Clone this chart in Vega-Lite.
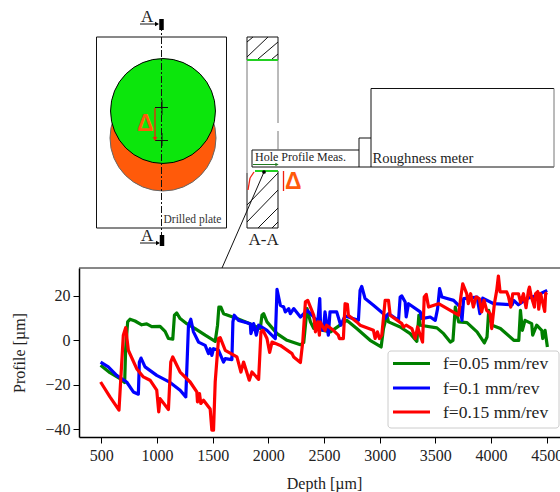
{"$schema":"https://vega.github.io/schema/vega-lite/v6.json","width":560,"height":492,"padding":0,"autosize":{"type":"none"},"background":"white","config":{"view":{"stroke":null},"font":"Liberation Serif"},
"datasets":{
"profile":[
{"d":494,"p":-11.3,"f":"f=0.05 mm/rev"},{"d":578,"p":-14.6,"f":"f=0.05 mm/rev"},{"d":668,"p":-17.3,"f":"f=0.05 mm/rev"},{"d":710,"p":-19,"f":"f=0.05 mm/rev"},{"d":719,"p":-3.8,"f":"f=0.05 mm/rev"},{"d":737,"p":8.3,"f":"f=0.05 mm/rev"},{"d":758,"p":9.5,"f":"f=0.05 mm/rev"},{"d":803,"p":8.7,"f":"f=0.05 mm/rev"},{"d":863,"p":7,"f":"f=0.05 mm/rev"},{"d":908,"p":7.4,"f":"f=0.05 mm/rev"},{"d":953,"p":6.2,"f":"f=0.05 mm/rev"},{"d":1028,"p":6.3,"f":"f=0.05 mm/rev"},{"d":1073,"p":4,"f":"f=0.05 mm/rev"},{"d":1103,"p":0.8,"f":"f=0.05 mm/rev"},{"d":1142,"p":0.5,"f":"f=0.05 mm/rev"},{"d":1157,"p":11.3,"f":"f=0.05 mm/rev"},{"d":1178,"p":12.3,"f":"f=0.05 mm/rev"},{"d":1208,"p":9.8,"f":"f=0.05 mm/rev"},{"d":1268,"p":7.5,"f":"f=0.05 mm/rev"},{"d":1343,"p":5.3,"f":"f=0.05 mm/rev"},{"d":1433,"p":2.3,"f":"f=0.05 mm/rev"},{"d":1523,"p":-0.5,"f":"f=0.05 mm/rev"},{"d":1544,"p":6.8,"f":"f=0.05 mm/rev"},{"d":1556,"p":15,"f":"f=0.05 mm/rev"},{"d":1574,"p":15,"f":"f=0.05 mm/rev"},{"d":1598,"p":12,"f":"f=0.05 mm/rev"},{"d":1718,"p":9.8,"f":"f=0.05 mm/rev"},{"d":1808,"p":8,"f":"f=0.05 mm/rev"},{"d":1928,"p":5.3,"f":"f=0.05 mm/rev"},{"d":1943,"p":11.3,"f":"f=0.05 mm/rev"},{"d":1958,"p":12,"f":"f=0.05 mm/rev"},{"d":1988,"p":8.3,"f":"f=0.05 mm/rev"},{"d":2078,"p":3,"f":"f=0.05 mm/rev"},{"d":2168,"p":0,"f":"f=0.05 mm/rev"},{"d":2288,"p":-2,"f":"f=0.05 mm/rev"},{"d":2318,"p":-1,"f":"f=0.05 mm/rev"},{"d":2348,"p":14.3,"f":"f=0.05 mm/rev"},{"d":2378,"p":8.3,"f":"f=0.05 mm/rev"},{"d":2408,"p":5.3,"f":"f=0.05 mm/rev"},{"d":2558,"p":3.8,"f":"f=0.05 mm/rev"},{"d":2704,"p":9,"f":"f=0.05 mm/rev"},{"d":2794,"p":5.3,"f":"f=0.05 mm/rev"},{"d":2914,"p":0,"f":"f=0.05 mm/rev"},{"d":3013,"p":-3,"f":"f=0.05 mm/rev"},{"d":3034,"p":5.3,"f":"f=0.05 mm/rev"},{"d":3064,"p":11.3,"f":"f=0.05 mm/rev"},{"d":3079,"p":8.3,"f":"f=0.05 mm/rev"},{"d":3184,"p":6,"f":"f=0.05 mm/rev"},{"d":3274,"p":3,"f":"f=0.05 mm/rev"},{"d":3334,"p":-0.5,"f":"f=0.05 mm/rev"},{"d":3352,"p":11.3,"f":"f=0.05 mm/rev"},{"d":3364,"p":6.8,"f":"f=0.05 mm/rev"},{"d":3514,"p":5.6,"f":"f=0.05 mm/rev"},{"d":3574,"p":3,"f":"f=0.05 mm/rev"},{"d":3634,"p":-0.8,"f":"f=0.05 mm/rev"},{"d":3658,"p":0,"f":"f=0.05 mm/rev"},{"d":3679,"p":15,"f":"f=0.05 mm/rev"},{"d":3709,"p":8.3,"f":"f=0.05 mm/rev"},{"d":3784,"p":8,"f":"f=0.05 mm/rev"},{"d":3874,"p":3.8,"f":"f=0.05 mm/rev"},{"d":3940,"p":-1.2,"f":"f=0.05 mm/rev"},{"d":3964,"p":1.5,"f":"f=0.05 mm/rev"},{"d":3979,"p":13.5,"f":"f=0.05 mm/rev"},{"d":4009,"p":6.8,"f":"f=0.05 mm/rev"},{"d":4084,"p":5.3,"f":"f=0.05 mm/rev"},{"d":4204,"p":0,"f":"f=0.05 mm/rev"},{"d":4249,"p":0,"f":"f=0.05 mm/rev"},{"d":4264,"p":13.5,"f":"f=0.05 mm/rev"},{"d":4281,"p":4.5,"f":"f=0.05 mm/rev"},{"d":4305,"p":9,"f":"f=0.05 mm/rev"},{"d":4365,"p":7.5,"f":"f=0.05 mm/rev"},{"d":4374,"p":2.3,"f":"f=0.05 mm/rev"},{"d":4410,"p":6.8,"f":"f=0.05 mm/rev"},{"d":4455,"p":4.5,"f":"f=0.05 mm/rev"},{"d":4464,"p":0.8,"f":"f=0.05 mm/rev"},{"d":4485,"p":4.5,"f":"f=0.05 mm/rev"},{"d":4506,"p":-3,"f":"f=0.05 mm/rev"},
{"d":494,"p":-9.8,"f":"f=0.1 mm/rev"},{"d":563,"p":-12,"f":"f=0.1 mm/rev"},{"d":638,"p":-15.8,"f":"f=0.1 mm/rev"},{"d":728,"p":-18.8,"f":"f=0.1 mm/rev"},{"d":788,"p":-23.3,"f":"f=0.1 mm/rev"},{"d":833,"p":-24.3,"f":"f=0.1 mm/rev"},{"d":842,"p":-9.8,"f":"f=0.1 mm/rev"},{"d":857,"p":-8,"f":"f=0.1 mm/rev"},{"d":893,"p":-12,"f":"f=0.1 mm/rev"},{"d":998,"p":-15.8,"f":"f=0.1 mm/rev"},{"d":1118,"p":-19,"f":"f=0.1 mm/rev"},{"d":1208,"p":-22.5,"f":"f=0.1 mm/rev"},{"d":1259,"p":-25.5,"f":"f=0.1 mm/rev"},{"d":1283,"p":6.8,"f":"f=0.1 mm/rev"},{"d":1304,"p":9.5,"f":"f=0.1 mm/rev"},{"d":1328,"p":3.8,"f":"f=0.1 mm/rev"},{"d":1373,"p":-0.8,"f":"f=0.1 mm/rev"},{"d":1433,"p":-2.3,"f":"f=0.1 mm/rev"},{"d":1463,"p":-6,"f":"f=0.1 mm/rev"},{"d":1478,"p":-3.8,"f":"f=0.1 mm/rev"},{"d":1493,"p":-6.8,"f":"f=0.1 mm/rev"},{"d":1508,"p":-3.8,"f":"f=0.1 mm/rev"},{"d":1553,"p":-4.5,"f":"f=0.1 mm/rev"},{"d":1598,"p":-9.8,"f":"f=0.1 mm/rev"},{"d":1613,"p":-8.3,"f":"f=0.1 mm/rev"},{"d":1673,"p":-8.7,"f":"f=0.1 mm/rev"},{"d":1682,"p":8.3,"f":"f=0.1 mm/rev"},{"d":1694,"p":11.3,"f":"f=0.1 mm/rev"},{"d":1733,"p":9,"f":"f=0.1 mm/rev"},{"d":1838,"p":7.5,"f":"f=0.1 mm/rev"},{"d":1844,"p":3,"f":"f=0.1 mm/rev"},{"d":1868,"p":7.5,"f":"f=0.1 mm/rev"},{"d":1892,"p":2.3,"f":"f=0.1 mm/rev"},{"d":1913,"p":6.8,"f":"f=0.1 mm/rev"},{"d":1988,"p":4.5,"f":"f=0.1 mm/rev"},{"d":2063,"p":0.8,"f":"f=0.1 mm/rev"},{"d":2078,"p":23,"f":"f=0.1 mm/rev"},{"d":2108,"p":15.8,"f":"f=0.1 mm/rev"},{"d":2138,"p":15,"f":"f=0.1 mm/rev"},{"d":2153,"p":12.8,"f":"f=0.1 mm/rev"},{"d":2183,"p":14.3,"f":"f=0.1 mm/rev"},{"d":2198,"p":12,"f":"f=0.1 mm/rev"},{"d":2228,"p":14.3,"f":"f=0.1 mm/rev"},{"d":2288,"p":10.5,"f":"f=0.1 mm/rev"},{"d":2348,"p":13.5,"f":"f=0.1 mm/rev"},{"d":2393,"p":11.3,"f":"f=0.1 mm/rev"},{"d":2444,"p":8.3,"f":"f=0.1 mm/rev"},{"d":2462,"p":18.8,"f":"f=0.1 mm/rev"},{"d":2470,"p":5,"f":"f=0.1 mm/rev"},{"d":2494,"p":4.5,"f":"f=0.1 mm/rev"},{"d":2509,"p":12.8,"f":"f=0.1 mm/rev"},{"d":2539,"p":2.3,"f":"f=0.1 mm/rev"},{"d":2554,"p":12.8,"f":"f=0.1 mm/rev"},{"d":2614,"p":12.8,"f":"f=0.1 mm/rev"},{"d":2650,"p":6.8,"f":"f=0.1 mm/rev"},{"d":2689,"p":11,"f":"f=0.1 mm/rev"},{"d":2809,"p":9,"f":"f=0.1 mm/rev"},{"d":2824,"p":22.5,"f":"f=0.1 mm/rev"},{"d":2839,"p":24.3,"f":"f=0.1 mm/rev"},{"d":2869,"p":18.8,"f":"f=0.1 mm/rev"},{"d":2944,"p":15.8,"f":"f=0.1 mm/rev"},{"d":3034,"p":12,"f":"f=0.1 mm/rev"},{"d":3049,"p":9.8,"f":"f=0.1 mm/rev"},{"d":3079,"p":12,"f":"f=0.1 mm/rev"},{"d":3169,"p":9,"f":"f=0.1 mm/rev"},{"d":3184,"p":19.5,"f":"f=0.1 mm/rev"},{"d":3199,"p":20,"f":"f=0.1 mm/rev"},{"d":3229,"p":17.3,"f":"f=0.1 mm/rev"},{"d":3238,"p":10.5,"f":"f=0.1 mm/rev"},{"d":3259,"p":16.5,"f":"f=0.1 mm/rev"},{"d":3364,"p":12.8,"f":"f=0.1 mm/rev"},{"d":3379,"p":9.8,"f":"f=0.1 mm/rev"},{"d":3454,"p":10.5,"f":"f=0.1 mm/rev"},{"d":3499,"p":9,"f":"f=0.1 mm/rev"},{"d":3520,"p":14.3,"f":"f=0.1 mm/rev"},{"d":3538,"p":23.3,"f":"f=0.1 mm/rev"},{"d":3559,"p":19.5,"f":"f=0.1 mm/rev"},{"d":3664,"p":18,"f":"f=0.1 mm/rev"},{"d":3724,"p":15,"f":"f=0.1 mm/rev"},{"d":3739,"p":9,"f":"f=0.1 mm/rev"},{"d":3754,"p":18.8,"f":"f=0.1 mm/rev"},{"d":3874,"p":19.5,"f":"f=0.1 mm/rev"},{"d":3900,"p":12,"f":"f=0.1 mm/rev"},{"d":3925,"p":19,"f":"f=0.1 mm/rev"},{"d":4024,"p":16.5,"f":"f=0.1 mm/rev"},{"d":4189,"p":16,"f":"f=0.1 mm/rev"},{"d":4204,"p":18,"f":"f=0.1 mm/rev"},{"d":4246,"p":16,"f":"f=0.1 mm/rev"},{"d":4324,"p":18.8,"f":"f=0.1 mm/rev"},{"d":4414,"p":20.3,"f":"f=0.1 mm/rev"},{"d":4504,"p":22.5,"f":"f=0.1 mm/rev"},
{"d":494,"p":-18.8,"f":"f=0.15 mm/rev"},{"d":578,"p":-25.5,"f":"f=0.15 mm/rev"},{"d":659,"p":-31.5,"f":"f=0.15 mm/rev"},{"d":698,"p":2.3,"f":"f=0.15 mm/rev"},{"d":719,"p":5.7,"f":"f=0.15 mm/rev"},{"d":743,"p":-4.5,"f":"f=0.15 mm/rev"},{"d":818,"p":-12.8,"f":"f=0.15 mm/rev"},{"d":878,"p":-16.5,"f":"f=0.15 mm/rev"},{"d":938,"p":-18,"f":"f=0.15 mm/rev"},{"d":998,"p":-22.5,"f":"f=0.15 mm/rev"},{"d":1016,"p":-32.3,"f":"f=0.15 mm/rev"},{"d":1028,"p":-26.3,"f":"f=0.15 mm/rev"},{"d":1103,"p":-31.2,"f":"f=0.15 mm/rev"},{"d":1124,"p":-9.8,"f":"f=0.15 mm/rev"},{"d":1142,"p":-7.5,"f":"f=0.15 mm/rev"},{"d":1208,"p":-14.3,"f":"f=0.15 mm/rev"},{"d":1298,"p":-18.8,"f":"f=0.15 mm/rev"},{"d":1358,"p":-23.3,"f":"f=0.15 mm/rev"},{"d":1364,"p":-27.8,"f":"f=0.15 mm/rev"},{"d":1382,"p":-24,"f":"f=0.15 mm/rev"},{"d":1394,"p":-28.5,"f":"f=0.15 mm/rev"},{"d":1418,"p":-27,"f":"f=0.15 mm/rev"},{"d":1478,"p":-31,"f":"f=0.15 mm/rev"},{"d":1493,"p":-40.5,"f":"f=0.15 mm/rev"},{"d":1508,"p":-40.5,"f":"f=0.15 mm/rev"},{"d":1523,"p":-18.8,"f":"f=0.15 mm/rev"},{"d":1553,"p":0.8,"f":"f=0.15 mm/rev"},{"d":1568,"p":1.2,"f":"f=0.15 mm/rev"},{"d":1613,"p":-4.5,"f":"f=0.15 mm/rev"},{"d":1718,"p":-7.5,"f":"f=0.15 mm/rev"},{"d":1754,"p":-14.3,"f":"f=0.15 mm/rev"},{"d":1778,"p":-9.8,"f":"f=0.15 mm/rev"},{"d":1829,"p":-18,"f":"f=0.15 mm/rev"},{"d":1853,"p":-14.3,"f":"f=0.15 mm/rev"},{"d":1913,"p":-17.6,"f":"f=0.15 mm/rev"},{"d":1934,"p":3.8,"f":"f=0.15 mm/rev"},{"d":1952,"p":4.5,"f":"f=0.15 mm/rev"},{"d":1988,"p":0.8,"f":"f=0.15 mm/rev"},{"d":2012,"p":-5.5,"f":"f=0.15 mm/rev"},{"d":2033,"p":-0.8,"f":"f=0.15 mm/rev"},{"d":2108,"p":-2.3,"f":"f=0.15 mm/rev"},{"d":2213,"p":-6,"f":"f=0.15 mm/rev"},{"d":2228,"p":-7.5,"f":"f=0.15 mm/rev"},{"d":2288,"p":-10,"f":"f=0.15 mm/rev"},{"d":2309,"p":-0.8,"f":"f=0.15 mm/rev"},{"d":2333,"p":17.3,"f":"f=0.15 mm/rev"},{"d":2354,"p":18,"f":"f=0.15 mm/rev"},{"d":2408,"p":11.3,"f":"f=0.15 mm/rev"},{"d":2423,"p":3.8,"f":"f=0.15 mm/rev"},{"d":2444,"p":8.3,"f":"f=0.15 mm/rev"},{"d":2459,"p":2.3,"f":"f=0.15 mm/rev"},{"d":2464,"p":8.3,"f":"f=0.15 mm/rev"},{"d":2509,"p":4.5,"f":"f=0.15 mm/rev"},{"d":2524,"p":6.8,"f":"f=0.15 mm/rev"},{"d":2584,"p":4.5,"f":"f=0.15 mm/rev"},{"d":2629,"p":2.3,"f":"f=0.15 mm/rev"},{"d":2638,"p":0.8,"f":"f=0.15 mm/rev"},{"d":2674,"p":0.8,"f":"f=0.15 mm/rev"},{"d":2689,"p":16.5,"f":"f=0.15 mm/rev"},{"d":2710,"p":16.2,"f":"f=0.15 mm/rev"},{"d":2719,"p":11.3,"f":"f=0.15 mm/rev"},{"d":2794,"p":8.3,"f":"f=0.15 mm/rev"},{"d":2824,"p":6.8,"f":"f=0.15 mm/rev"},{"d":2944,"p":4.5,"f":"f=0.15 mm/rev"},{"d":2959,"p":0.8,"f":"f=0.15 mm/rev"},{"d":2980,"p":3.8,"f":"f=0.15 mm/rev"},{"d":2998,"p":0.8,"f":"f=0.15 mm/rev"},{"d":3019,"p":2.3,"f":"f=0.15 mm/rev"},{"d":3049,"p":18,"f":"f=0.15 mm/rev"},{"d":3079,"p":18,"f":"f=0.15 mm/rev"},{"d":3094,"p":11.3,"f":"f=0.15 mm/rev"},{"d":3199,"p":7.5,"f":"f=0.15 mm/rev"},{"d":3214,"p":6,"f":"f=0.15 mm/rev"},{"d":3238,"p":6.8,"f":"f=0.15 mm/rev"},{"d":3289,"p":5.3,"f":"f=0.15 mm/rev"},{"d":3319,"p":0.8,"f":"f=0.15 mm/rev"},{"d":3340,"p":6,"f":"f=0.15 mm/rev"},{"d":3385,"p":-0.8,"f":"f=0.15 mm/rev"},{"d":3400,"p":19.5,"f":"f=0.15 mm/rev"},{"d":3418,"p":20.7,"f":"f=0.15 mm/rev"},{"d":3439,"p":15,"f":"f=0.15 mm/rev"},{"d":3529,"p":16.5,"f":"f=0.15 mm/rev"},{"d":3634,"p":13.5,"f":"f=0.15 mm/rev"},{"d":3709,"p":11.3,"f":"f=0.15 mm/rev"},{"d":3730,"p":20,"f":"f=0.15 mm/rev"},{"d":3746,"p":25.5,"f":"f=0.15 mm/rev"},{"d":3782,"p":21,"f":"f=0.15 mm/rev"},{"d":3796,"p":16.5,"f":"f=0.15 mm/rev"},{"d":3817,"p":21,"f":"f=0.15 mm/rev"},{"d":3841,"p":15,"f":"f=0.15 mm/rev"},{"d":3865,"p":19.5,"f":"f=0.15 mm/rev"},{"d":3895,"p":18.8,"f":"f=0.15 mm/rev"},{"d":3916,"p":12.8,"f":"f=0.15 mm/rev"},{"d":3937,"p":18,"f":"f=0.15 mm/rev"},{"d":3961,"p":13.5,"f":"f=0.15 mm/rev"},{"d":3991,"p":12,"f":"f=0.15 mm/rev"},{"d":4006,"p":5.3,"f":"f=0.15 mm/rev"},{"d":4030,"p":16.5,"f":"f=0.15 mm/rev"},{"d":4051,"p":22.5,"f":"f=0.15 mm/rev"},{"d":4066,"p":29,"f":"f=0.15 mm/rev"},{"d":4081,"p":21.8,"f":"f=0.15 mm/rev"},{"d":4141,"p":21.8,"f":"f=0.15 mm/rev"},{"d":4156,"p":19.8,"f":"f=0.15 mm/rev"},{"d":4177,"p":15,"f":"f=0.15 mm/rev"},{"d":4195,"p":21,"f":"f=0.15 mm/rev"},{"d":4246,"p":21,"f":"f=0.15 mm/rev"},{"d":4266,"p":17,"f":"f=0.15 mm/rev"},{"d":4291,"p":21,"f":"f=0.15 mm/rev"},{"d":4314,"p":14.7,"f":"f=0.15 mm/rev"},{"d":4336,"p":22.5,"f":"f=0.15 mm/rev"},{"d":4345,"p":24,"f":"f=0.15 mm/rev"},{"d":4360,"p":20,"f":"f=0.15 mm/rev"},{"d":4390,"p":15,"f":"f=0.15 mm/rev"},{"d":4400,"p":21,"f":"f=0.15 mm/rev"},{"d":4420,"p":22,"f":"f=0.15 mm/rev"},{"d":4428,"p":14,"f":"f=0.15 mm/rev"},{"d":4445,"p":21,"f":"f=0.15 mm/rev"},{"d":4482,"p":13,"f":"f=0.15 mm/rev"},{"d":4490,"p":21,"f":"f=0.15 mm/rev"},{"d":4504,"p":21.5,"f":"f=0.15 mm/rev"}
],
"blackSegs":[
{"a":96.5,"b":37,"c":226.5,"e":37},{"a":226.5,"b":37,"c":226.5,"e":228},{"a":226.5,"b":228,"c":96.5,"e":228},{"a":96.5,"b":228,"c":96.5,"e":37},
{"a":247,"b":37,"c":278,"e":37},{"a":247,"b":228,"c":278,"e":228},{"a":247,"b":173,"c":247,"e":228},{"a":278,"b":171,"c":278,"e":228},{"a":247,"b":37,"c":247,"e":60},{"a":278,"b":37,"c":278,"e":60},
{"a":247,"b":42,"c":253,"e":37},{"a":247,"b":57,"c":268,"e":37},{"a":258,"b":59,"c":278,"e":42},{"a":272,"b":59,"c":278,"e":54},
{"a":247,"b":205,"c":278,"e":173},{"a":247,"b":222,"c":278,"e":190},{"a":258,"b":228,"c":278,"e":208},{"a":272,"b":228,"c":278,"e":222},
{"a":264,"b":172,"c":222,"e":268},
{"a":252,"b":150,"c":359,"e":150},{"a":252,"b":150,"c":252,"e":167},{"a":252,"b":167,"c":554,"e":167},{"a":359,"b":138,"c":359,"e":167},{"a":359,"b":138,"c":371,"e":138},{"a":371,"b":88.5,"c":371,"e":167},{"a":371,"b":88.5,"c":554,"e":88.5},
{"a":155,"b":107.5,"c":168,"e":107.5},{"a":155,"b":140.5,"c":168,"e":140.5},{"a":162,"b":100,"c":162,"e":115},{"a":162,"b":133,"c":162,"e":146},
{"a":140,"b":24,"c":156,"e":24},{"a":140,"b":243,"c":158,"e":243},
{"a":79,"b":268,"c":569,"e":268}
],
"graySegs":[{"a":247,"b":60,"c":247,"e":173},{"a":278,"b":60,"c":278,"e":123},{"a":278,"b":131,"c":278,"e":150},{"a":554,"b":88.5,"c":554,"e":167}],
"greenSegs":[{"a":247,"b":60,"c":278,"e":60},{"a":255,"b":171,"c":278,"e":171}],
"darkGreenSegs":[{"a":253,"b":164.5,"c":277,"e":164.5}],
"redSegs":[{"a":248,"b":190,"c":250,"e":178},{"a":250,"b":178,"c":254,"e":172},{"a":283.5,"b":171,"c":283.5,"e":191},{"a":155,"b":108,"c":155,"e":138}],
"centre":[{"a":161.5,"b":24,"c":161.5,"e":245}],
"bars":[{"a":161.5,"b":19,"c":161.5,"e":30},{"a":162,"b":235,"c":162,"e":246}],
"discs":[{"a":163,"b":138,"k":"hole"}],
"discs2":[{"a":163,"b":111,"k":"reamed"}],
"legendFrame":[{"a":388,"b":351,"c":559,"e":428}],
"legendGreen":[{"a":393,"b":363.5,"c":430,"e":363.5}],
"legendBlue":[{"a":393,"b":388,"c":430,"e":388}],
"legendRed":[{"a":393,"b":412,"c":430,"e":412}],
"legendText":[{"a":443,"b":369,"t":"f=0.05 mm/rev"},{"a":443,"b":393.5,"t":"f=0.1 mm/rev"},{"a":443,"b":417.5,"t":"f=0.15 mm/rev"}]
},
"resolve":{"scale":{"x":"independent","y":"independent"},"axis":{"x":"independent","y":"independent"}},
"layer":[
{"encoding":{"x":{"field":"a","type":"quantitative","axis":null,"scale":{"domain":[0,560],"range":[0,560],"nice":false,"zero":false}},"y":{"field":"b","type":"quantitative","axis":null,"scale":{"domain":[0,492],"range":[0,492],"nice":false,"zero":false}},"x2":{"field":"c"},"y2":{"field":"e"}},
"layer":[
{"data":{"name":"discs"},"mark":{"type":"point","shape":"circle","filled":true,"size":11236,"fill":"#ff5a0a","stroke":"#666666","strokeWidth":1,"opacity":1},"encoding":{"x2":null,"y2":null}},
{"data":{"name":"discs2"},"mark":{"type":"point","shape":"circle","filled":true,"size":11000,"fill":"#0ce60c","stroke":"#000000","strokeWidth":1,"opacity":1},"encoding":{"x2":null,"y2":null}},
{"data":{"name":"blackSegs"},"mark":{"type":"rule","stroke":"#111111","strokeWidth":1}},
{"data":{"name":"graySegs"},"mark":{"type":"rule","stroke":"#777777","strokeWidth":1}},
{"data":{"name":"greenSegs"},"mark":{"type":"rule","stroke":"#22d022","strokeWidth":2}},
{"data":{"name":"darkGreenSegs"},"mark":{"type":"rule","stroke":"#1f7a1f","strokeWidth":1}},
{"data":{"name":"redSegs"},"mark":{"type":"rule","stroke":"#f02010","strokeWidth":1.3}},
{"data":{"name":"centre"},"mark":{"type":"rule","stroke":"#111111","strokeWidth":1,"strokeDash":[7,2,2,2]}},
{"data":{"name":"bars"},"mark":{"type":"rule","stroke":"#000000","strokeWidth":4.5}},
{"data":{"values":[{"a":155,"b":139}]},"mark":{"type":"point","shape":"triangle-down","filled":true,"size":22,"fill":"#f02010","opacity":1},"encoding":{"x2":null,"y2":null}},
{"data":{"values":[{"a":277,"b":164.5}]},"mark":{"type":"point","shape":"triangle-right","filled":true,"size":14,"fill":"#1f7a1f","opacity":1},"encoding":{"x2":null,"y2":null}},
{"data":{"values":[{"a":157,"b":24},{"a":158,"b":243}]},"mark":{"type":"point","shape":"triangle-right","filled":true,"size":22,"fill":"#000000","opacity":1},"encoding":{"x2":null,"y2":null}},
{"data":{"values":[{"a":264,"b":172}]},"mark":{"type":"point","shape":"circle","filled":true,"size":14,"fill":"#000000","opacity":1},"encoding":{"x2":null,"y2":null}},
{"data":{"values":[{"a":141,"b":21.5,"t":"A"},{"a":141,"b":240.5,"t":"A"},{"a":248.5,"b":245,"t":"A-A"}]},"mark":{"type":"text","align":"left","baseline":"alphabetic","fontSize":17,"fill":"#222222"},"encoding":{"x2":null,"y2":null,"text":{"field":"t"}}},
{"data":{"values":[{"a":137,"b":131,"t":"Δ"},{"a":285,"b":189,"t":"Δ"}]},"mark":{"type":"text","align":"left","baseline":"alphabetic","fontSize":23,"fontWeight":"bold","fill":"#ff5a0a","font":"Liberation Sans"},"encoding":{"x2":null,"y2":null,"text":{"field":"t"}}},
{"data":{"values":[{"a":163.5,"b":222.5,"t":"Drilled plate"}]},"mark":{"type":"text","align":"left","baseline":"alphabetic","fontSize":11.5,"fill":"#333333"},"encoding":{"x2":null,"y2":null,"text":{"field":"t"}}},
{"data":{"values":[{"a":255,"b":161,"t":"Hole Profile Meas."}]},"mark":{"type":"text","align":"left","baseline":"alphabetic","fontSize":12,"fill":"#222222"},"encoding":{"x2":null,"y2":null,"text":{"field":"t"}}},
{"data":{"values":[{"a":372.5,"b":163,"t":"Roughness meter"}]},"mark":{"type":"text","align":"left","baseline":"alphabetic","fontSize":14.6,"fill":"#222222"},"encoding":{"x2":null,"y2":null,"text":{"field":"t"}}}
]},
{"data":{"name":"profile"},
"mark":{"type":"line","strokeWidth":3.2,"strokeJoin":"round"},
"encoding":{
"x":{"field":"d","type":"quantitative","title":"Depth [µm]","scale":{"domain":[300,4700],"range":[79,569],"nice":false,"zero":false},"axis":{"values":[500,1000,1500,2000,2500,3000,3500,4000,4500],"format":"d","offset":-55,"grid":false,"domainColor":"#000000","domainWidth":1.5,"tickColor":"#000000","tickSize":6,"tickWidth":1,"labelColor":"#222222","titleColor":"#222222","labelFontSize":16,"titleFontSize":16,"titleFontWeight":"normal","labelFont":"Liberation Serif","titleFont":"Liberation Serif","labelPadding":4,"titlePadding":12,"labelFlush":false,"labelOverlap":false}},
"y":{"field":"p","type":"quantitative","title":"Profile [µm]","scale":{"domain":[-43.6,32.6],"range":[437,268],"nice":false,"zero":false},"axis":{"values":[-40,-20,0,20],"offset":-79,"grid":false,"domainColor":"#000000","domainWidth":1.5,"tickColor":"#000000","tickSize":6,"tickWidth":1,"labelColor":"#222222","titleColor":"#222222","labelFontSize":16,"titleFontSize":16,"titleFontWeight":"normal","labelFont":"Liberation Serif","titleFont":"Liberation Serif","labelPadding":3,"titlePadding":17}},
"color":{"field":"f","type":"nominal","sort":null,"scale":{"domain":["f=0.05 mm/rev","f=0.1 mm/rev","f=0.15 mm/rev"],"range":["#008000","#0000ff","#ff0000"]},"legend":null}
}},
{"encoding":{"x":{"field":"a","type":"quantitative","axis":null,"scale":{"domain":[0,560],"range":[0,560],"nice":false,"zero":false}},"y":{"field":"b","type":"quantitative","axis":null,"scale":{"domain":[0,492],"range":[0,492],"nice":false,"zero":false}}},
"layer":[
{"data":{"name":"legendFrame"},"mark":{"type":"rect","fill":"#ffffff","fillOpacity":0.85,"stroke":"#cccccc","strokeWidth":1,"cornerRadius":3},"encoding":{"x2":{"field":"c"},"y2":{"field":"e"}}},
{"data":{"name":"legendGreen"},"mark":{"type":"rule","stroke":"#008000","strokeWidth":3},"encoding":{"x2":{"field":"c"},"y2":{"field":"e"}}},
{"data":{"name":"legendBlue"},"mark":{"type":"rule","stroke":"#0000ff","strokeWidth":3},"encoding":{"x2":{"field":"c"},"y2":{"field":"e"}}},
{"data":{"name":"legendRed"},"mark":{"type":"rule","stroke":"#ff0000","strokeWidth":3},"encoding":{"x2":{"field":"c"},"y2":{"field":"e"}}},
{"data":{"name":"legendText"},"mark":{"type":"text","align":"left","baseline":"alphabetic","fontSize":17.5,"fill":"#222222"},"encoding":{"text":{"field":"t"}}}
]}
]}
